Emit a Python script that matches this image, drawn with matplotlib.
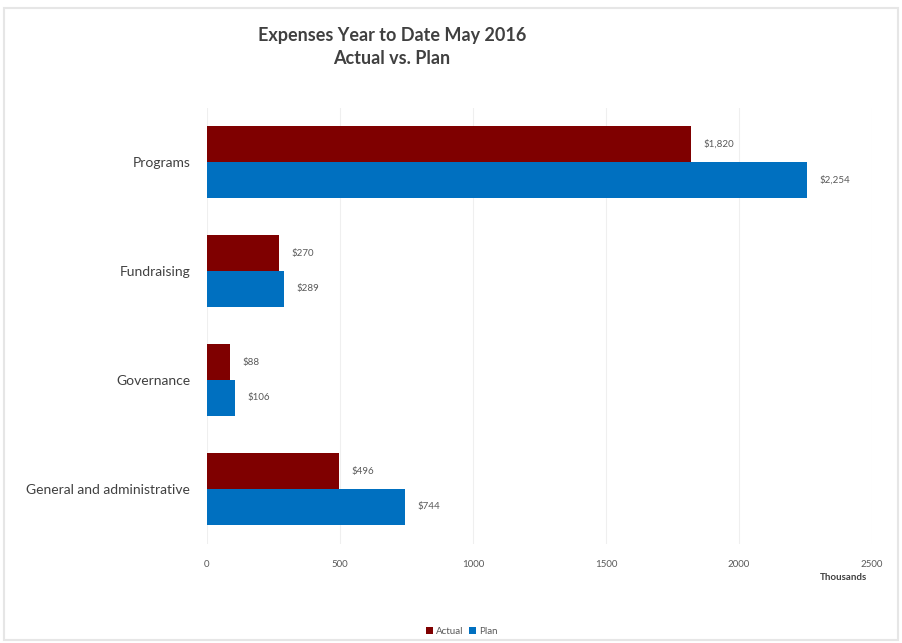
import matplotlib
matplotlib.use("Agg")
import matplotlib.pyplot as plt
import numpy as np

categories = ["Programs", "Fundraising", "Governance", "General and administrative"]
actual = [1820, 270, 88, 496]
plan = [2254, 289, 106, 744]
series_names = ["Actual", "Plan"]
xticks = [0, 500, 1000, 1500, 2000, 2500]

c_actual = "#7F0000"
c_plan = "#0070C0"
txt = "#404040"

plt.rcParams['font.family'] = ['Lato', 'DejaVu Sans']

fig = plt.figure(figsize=(9.02, 6.43), dpi=100)
ax = fig.add_axes([207/902, 1-543.5/643, (872-207)/902, 436/643])

y = np.arange(len(categories))
h = 0.33
b1 = ax.barh(y - h/2, actual, height=h, color=c_actual, label=series_names[0], zorder=3)
b2 = ax.barh(y + h/2, plan, height=h, color=c_plan, label=series_names[1], zorder=3)

for bars, vals in ((b1, actual), (b2, plan)):
    for bar, v in zip(bars, vals):
        ax.annotate(f"${v:,}", (v, bar.get_y() + bar.get_height()/2),
                    xytext=(9, 0), textcoords="offset points",
                    va="center", ha="left", fontsize=7, color="#595959")

ax.set_xlim(0, 2500)
ax.set_ylim(3.5, -0.5)
ax.set_yticks(y)
ax.set_yticklabels(categories, fontsize=10, color=txt)
ax.set_xticks(xticks)
ax.set_xticklabels([str(t) for t in xticks], fontsize=7, color="#595959")
ax.tick_params(axis='y', length=0, pad=12)
ax.tick_params(axis='x', length=0, pad=12)
ax.grid(axis='x', color="#efefef", linewidth=0.8, zorder=0)
for s in ax.spines.values():
    s.set_visible(False)

fig.text(843/902, 1-577/643, "Thousands", ha="center", va="center",
         fontsize=7, fontweight="bold", color=txt)

fig.text(392/902, 1-36/643, "Expenses Year to Date May 2016", ha="center", va="center",
         fontsize=13, fontweight="bold", color=txt)
fig.text(392/902, 1-58/643, "Actual vs. Plan", ha="center", va="center",
         fontsize=13, fontweight="bold", color=txt)

leg = fig.legend(handles=[b1, b2], labels=series_names, loc="center",
                 bbox_to_anchor=(462/902, 1-631/643), ncol=2, frameon=False,
                 fontsize=7, handlelength=0.7, handleheight=0.7,
                 handletextpad=0.3, columnspacing=0.6)
for t in leg.get_texts():
    t.set_color("#595959")

fig.patches.append(plt.Rectangle((0.004, 0.004), 0.992, 0.984, transform=fig.transFigure,
                                 fill=False, edgecolor="#e6e6e6", linewidth=1.5))

fig.savefig("out.png", dpi=100)
